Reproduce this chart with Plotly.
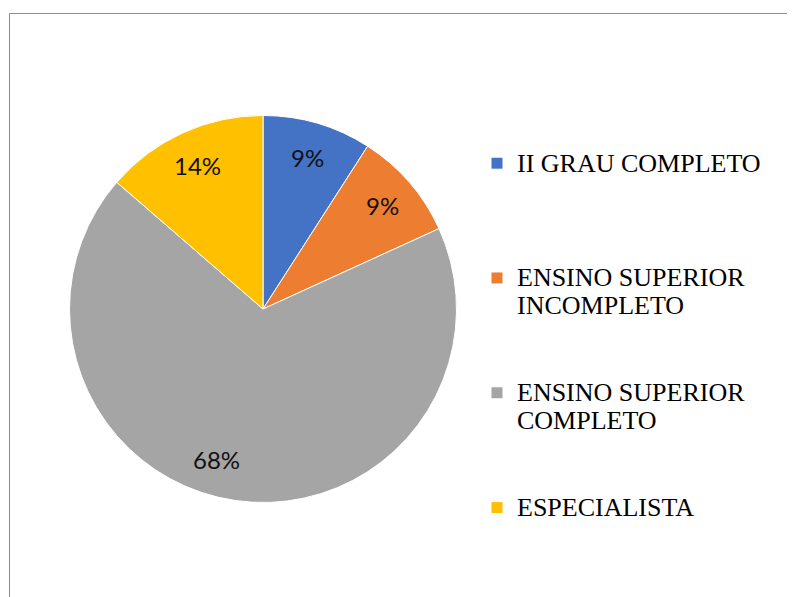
import math
import plotly.graph_objects as go

categories = ["II GRAU COMPLETO", "ENSINO SUPERIOR|INCOMPLETO",
              "ENSINO SUPERIOR|COMPLETO", "ESPECIALISTA"]
counts = [2, 2, 15, 3]
colors = ["#4472C4", "#ED7D31", "#A5A5A5", "#FFC000"]

# figure is offset 8px by the page body margin; size it to fill the window
W, H = 787, 589
CX, CY, R = 255, 301, 193.5          # pie centre / radius in figure px
LEG_FS = 21.5                        # legend base size -> line pitch
TXT_FS = 26                          # legend glyph size
LINES = 4

def legend_label(c, last):
    parts = c.split("|")
    parts = [f'<span style="font-size:{TXT_FS}px">{p}</span>' for p in parts]
    if not last:
        parts += [" "] * (LINES - len(parts))
    return "<br>".join(parts)

labels = [legend_label(c, i == len(categories) - 1) for i, c in enumerate(categories)]

fig = go.Figure(go.Pie(
    labels=labels,
    values=counts,
    sort=False,
    direction="clockwise",
    rotation=0,
    marker=dict(colors=colors, line=dict(color="white", width=1)),
    textinfo="none",
    customdata=[c.replace("|", " ") for c in categories],
    hovertemplate="%{customdata}: %{percent}<extra></extra>",
    domain=dict(x=[(CX - R) / W, (CX + R) / W],
                y=[(H - CY - R) / H, (H - CY + R) / H]),
))

# data labels placed like Excel's best-fit labels
total = sum(counts)
label_r = 0.815 * R
nudge_deg = [0, 0, 9, 0]   # Excel shifts the large slice's label slightly
annotations = []
cum = 0
for v, nd in zip(counts, nudge_deg):
    mid = (cum + v / 2) / total * 2 * math.pi + math.radians(nd)
    cum += v
    px = CX + label_r * math.sin(mid)
    py = CY - label_r * math.cos(mid)
    annotations.append(dict(
        x=px / W, y=1 - py / H, xref="paper", yref="paper",
        text=f"{round(v / total * 100)}%", showarrow=False,
        font=dict(family="Lato", size=24, color="#111111"),
        xanchor="center", yanchor="middle",
    ))

fig.update_layout(
    width=W, height=H,
    margin=dict(l=0, r=0, t=0, b=0, autoexpand=False),
    paper_bgcolor="white",
    plot_bgcolor="white",
    showlegend=True,
    annotations=annotations,
    legend=dict(
        x=469 / W, xanchor="left",
        y=1 - 134.7 / H, yanchor="top",
        valign="top",
        font=dict(family="Liberation Serif", size=LEG_FS, color="#000000"),
        bgcolor="rgba(0,0,0,0)",
        traceorder="normal",
    ),
    shapes=[
        dict(type="line", xref="paper", yref="paper",
             x0=1.5 / W, x1=1, y0=1 - 5.5 / H, y1=1 - 5.5 / H,
             line=dict(color="#8C8C8C", width=1)),
        dict(type="line", xref="paper", yref="paper",
             x0=1.5 / W, x1=1.5 / W, y0=0, y1=1 - 5.5 / H,
             line=dict(color="#8C8C8C", width=1)),
    ],
)

fig.write_html("out.html")
